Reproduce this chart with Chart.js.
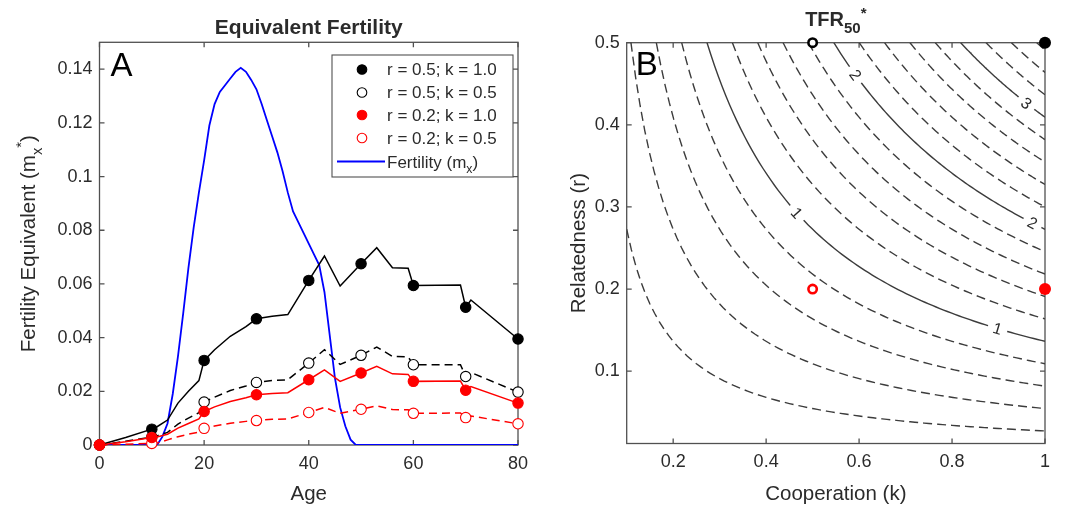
<!DOCTYPE html>
<html>
<head>
<meta charset="utf-8">
<script src="https://cdn.jsdelivr.net/npm/chart.js@4.4.1/dist/chart.umd.min.js"></script>
<style>
  html, body { margin: 0; padding: 0; background: #fff; }
  #wrap { position: relative; width: 1080px; height: 508px; overflow: hidden; }
  canvas { position: absolute; top: 0; }
  #chartA { left: 0; }
  #chartB { left: 540px; }
</style>
</head>
<body>
<div id="wrap">
  <canvas id="chartA" width="540" height="508"></canvas>
  <canvas id="chartB" width="540" height="508"></canvas>
</div>
<script>
'use strict'

// ---- panel A data ----
var eqAges = [0, 5, 10, 11, 13, 15, 17, 19, 20, 22, 25, 28, 30, 33, 36, 40, 43, 46, 50, 53, 56, 59, 60, 69, 70, 71, 80];
var markerAges = [0, 10, 20, 30, 40, 50, 60, 70, 80];
// r = 0.5; k = 1.0
var eqBlackFull = [0, 0.0028, 0.0059, 0.0068, 0.0093, 0.0156, 0.0200, 0.0240, 0.0315, 0.0355, 0.0405, 0.0441, 0.0470, 0.0480, 0.0486, 0.0613, 0.0704, 0.0592, 0.0675, 0.0735, 0.0660, 0.0658, 0.0594, 0.0596, 0.0513, 0.0540, 0.0395];
// r = 0.5; k = 0.5
var eqBlackOpen = [0, 0.0014, 0.0030, 0.0034, 0.0047, 0.0078, 0.0100, 0.0120, 0.0160, 0.0178, 0.0203, 0.0220, 0.0233, 0.0240, 0.0243, 0.0305, 0.0355, 0.0300, 0.0334, 0.0365, 0.0330, 0.0328, 0.0299, 0.0299, 0.0255, 0.0270, 0.0197];
// r = 0.2; k = 1.0
var eqRedFull = [0, 0.0012, 0.0028, 0.0030, 0.0040, 0.0063, 0.0080, 0.0097, 0.0125, 0.0142, 0.0162, 0.0176, 0.0187, 0.0192, 0.0195, 0.0243, 0.0280, 0.0237, 0.0268, 0.0293, 0.0265, 0.0263, 0.0237, 0.0238, 0.0204, 0.0218, 0.0156];
// r = 0.2; k = 0.5
var eqRedOpen = [0, 0.0003, 0.0006, 0.0007, 0.0019, 0.0031, 0.0040, 0.0048, 0.0062, 0.0071, 0.0081, 0.0088, 0.0091, 0.0096, 0.0097, 0.0121, 0.0140, 0.0118, 0.0133, 0.0146, 0.0132, 0.0131, 0.0118, 0.0119, 0.0102, 0.0108, 0.0079];

// fertility m_x
var fertAges = [0, 11, 12, 13, 14, 15, 16, 17, 18, 19, 20, 21, 22, 23, 24, 25, 26, 27, 28, 29, 30,
                31, 32, 33, 34, 35, 36, 37, 38, 39, 40, 41, 42, 43, 44, 45, 46, 47, 48, 49, 80];
var fertility = [0, 0, 0.003, 0.008, 0.019, 0.033, 0.049, 0.066, 0.081, 0.094, 0.106, 0.119, 0.127, 0.1315, 0.134, 0.1365, 0.139, 0.1405, 0.139, 0.136, 0.1325,
                 0.127, 0.121, 0.115, 0.109, 0.102, 0.094, 0.087, 0.083, 0.079, 0.075, 0.071, 0.067, 0.057, 0.041, 0.025, 0.014, 0.007, 0.002, 0, 0];

var ageTicks = [0, 20, 40, 60, 80];
var eqTicks = [0, 0.02, 0.04, 0.06, 0.08, 0.1, 0.12, 0.14];

// ---- panel B data ----
var caseR = [0.5, 0.5, 0.2, 0.2];
var caseK = [1.0, 0.5, 1.0, 0.5];
var contourLevels = [0.2, 0.4, 0.6, 0.8, 1.0, 1.2, 1.4, 1.6, 1.8, 2.0, 2.2, 2.4, 2.6, 2.8, 3.0, 3.2, 3.4, 3.6];
var solidLevels = [1, 2, 3];
var tfrPerKr = 7.33;   // TFR50* per unit of k*r, from the contour spacing
var kTicks = [0.2, 0.4, 0.6, 0.8, 1];
var rTicks = [0.1, 0.2, 0.3, 0.4, 0.5];
var labelSpots = [[1, 0.466], [1, 0.898], [2, 0.592], [2, 0.973], [3, 0.960]];   // [level, k]

// styles
var fam = "'Liberation Sans', Arial, Helvetica, sans-serif";
var txtColor = '#2b2b2b';
var axisColor = '#505050';
var tickFont = { family: fam, size: 18 };
var labelSize = 20.5;
var caseColor = ['#000000', '#000000', '#ff0000', '#ff0000'];
var caseFilled = [true, false, true, false];

Chart.defaults.font.family = fam;

// text with sub / superscripts. parts: [[text, mode]] mode 0 normal, -1 sub, 1 sup
function drawRich(ctx, parts, x, y, size, weight, rot, subDrop, subScale) {
    subDrop = subDrop || 0.32;
    subScale = subScale || 0.72;
    ctx.save();
    ctx.translate(x, y);
    if (rot) ctx.rotate(rot);
    ctx.fillStyle = txtColor;
    ctx.textAlign = 'left';
    ctx.textBaseline = 'alphabetic';
    var fontOf = function (p) {
        var s = p[1] === 0 ? size : size * subScale;
        return weight + ' ' + s + 'px ' + fam;
    };
    var total = 0, widths = [];
    parts.forEach(function (p) {
        ctx.font = fontOf(p);
        var w = ctx.measureText(p[0]).width;
        widths.push(w);
        total += w;
    });
    var cx = -total / 2;
    parts.forEach(function (p, i) {
        ctx.font = fontOf(p);
        var dy = p[1] === -1 ? size * subDrop : (p[1] === 1 ? -size * 0.42 : 0);
        ctx.fillText(p[0], cx, dy);
        cx += widths[i];
    });
    ctx.restore();
    return total;
}

// matlab-like box with inward ticks on all four sides
var boxPlugin = {
    id: 'matlabBox',
    beforeDatasetsDraw: function (chart) {
        var ctx = chart.ctx, a = chart.chartArea;
        var xs = chart.scales.x, ys = chart.scales.y;
        var tl = 5;
        ctx.save();
        ctx.strokeStyle = axisColor;
        ctx.lineWidth = 1.3;
        ctx.strokeRect(a.left, a.top, a.right - a.left, a.bottom - a.top);
        ctx.beginPath();
        xs.ticks.forEach(function (t) {
            var px = xs.getPixelForValue(t.value);
            ctx.moveTo(px, a.bottom); ctx.lineTo(px, a.bottom - tl);
            ctx.moveTo(px, a.top); ctx.lineTo(px, a.top + tl);
        });
        ys.ticks.forEach(function (t) {
            var py = ys.getPixelForValue(t.value);
            ctx.moveTo(a.left, py); ctx.lineTo(a.left + tl, py);
            ctx.moveTo(a.right, py); ctx.lineTo(a.right - tl, py);
        });
        ctx.stroke();
        ctx.restore();
    }
};

function makeScale(min, max, tickValues, fitSize, isX) {
    var s = {
        type: 'linear',
        min: min,
        max: max,
        afterBuildTicks: function (sc) {
            sc.ticks = tickValues.map(function (v) { return { value: v }; });
        },
        ticks: {
            font: tickFont,
            color: txtColor,
            padding: isX ? 8 : 7,
            maxRotation: 0,
            autoSkip: false,
            callback: function (v) { return String(v); }
        },
        grid: { display: false, drawTicks: false },
        border: { display: false }
    };
    s.afterFit = function (sc) {
        if (isX) sc.height = fitSize; else sc.width = fitSize;
    };
    return s;
}

function eqSeries(values, color, filled, dashed, order) {
    return {
        data: eqAges.map(function (a, i) { return { x: a, y: values[i] }; }),
        borderColor: color,
        borderWidth: 1.5,
        borderDash: dashed ? [8, 5] : [],
        pointRadius: function (c) {
            return (c.raw && markerAges.indexOf(c.raw.x) >= 0) ? 5.2 : 0;
        },
        pointBackgroundColor: filled ? color : '#ffffff',
        pointBorderColor: color,
        pointBorderWidth: 1.1,
        tension: 0,
        fill: false,
        clip: false,
        order: order
    };
}

// ---- panel A ----
var legendA = {
    id: 'legendA',
    afterDraw: function (chart) {
        var ctx = chart.ctx;
        var lfs = 17;
        ctx.save();
        ctx.fillStyle = '#fff';
        ctx.strokeStyle = axisColor;
        ctx.lineWidth = 1.1;
        ctx.fillRect(332, 55, 181, 122);
        ctx.strokeRect(332, 55, 181, 122);
        var rowY = [69.5, 92.5, 115, 138, 161.5];
        for (var i = 0; i < 4; i++) {
            ctx.beginPath();
            ctx.arc(362, rowY[i], 4.8, 0, Math.PI * 2);
            ctx.fillStyle = caseFilled[i] ? caseColor[i] : '#fff';
            ctx.fill();
            ctx.strokeStyle = caseColor[i];
            ctx.lineWidth = 1.1;
            ctx.stroke();
            ctx.fillStyle = txtColor;
            ctx.font = lfs + 'px ' + fam;
            ctx.textBaseline = 'middle';
            ctx.textAlign = 'left';
            ctx.fillText('r = ' + caseR[i].toFixed(1) + '; k = ' + caseK[i].toFixed(1), 387, rowY[i] + 1);
        }
        ctx.beginPath();
        ctx.strokeStyle = '#0000ff';
        ctx.lineWidth = 1.8;
        ctx.moveTo(337, rowY[4]);
        ctx.lineTo(385, rowY[4]);
        ctx.stroke();
        // measure first, then centre the rich text so it starts at x = 387
        ctx.font = lfs + 'px ' + fam;
        var wAll = ctx.measureText('Fertility (m').width + ctx.measureText(')').width;
        ctx.font = (lfs * 0.72) + 'px ' + fam;
        wAll += ctx.measureText('x').width;
        ctx.restore();
        drawRich(ctx, [['Fertility (m', 0], ['x', -1], [')', 0]], 387 + wAll / 2, rowY[4] + 6, lfs, 'normal', 0);
    }
};

var textA = {
    id: 'textA',
    afterDraw: function (chart) {
        var ctx = chart.ctx, a = chart.chartArea;
        var cx = (a.left + a.right) / 2;
        drawRich(ctx, [['Equivalent Fertility', 0]], cx, 34, 21, 'bold', 0);
        drawRich(ctx, [['Age', 0]], cx, 500, labelSize, 'normal', 0);
        drawRich(ctx, [['Fertility Equivalent (m', 0], ['x', -1], ['*', 1], [')', 0]],
            35, (a.top + a.bottom) / 2, labelSize, 'normal', -Math.PI / 2);
        ctx.save();
        ctx.fillStyle = '#000';
        ctx.font = '33px ' + fam;
        ctx.textAlign = 'left';
        ctx.textBaseline = 'alphabetic';
        ctx.fillText('A', a.left + 11, a.top + 34);
        ctx.restore();
    }
};

new Chart(document.getElementById('chartA'), {
    type: 'line',
    data: {
        datasets: [
            eqSeries(eqRedFull, '#ff0000', true, false, 0),
            eqSeries(eqRedOpen, '#ff0000', false, true, 1),
            eqSeries(eqBlackOpen, '#000000', false, true, 2),
            eqSeries(eqBlackFull, '#000000', true, false, 3),
            {
                data: fertAges.map(function (a, i) { return { x: a, y: fertility[i] }; }),
                borderColor: '#0000ff',
                borderWidth: 1.8,
                pointRadius: 0,
                tension: 0,
                fill: false,
                order: 4
            }
        ]
    },
    options: {
        responsive: false,
        animation: false,
        events: [],
        layout: { padding: { left: 0, right: 22, top: 42.3, bottom: 0 } },
        scales: {
            x: makeScale(0, 80, ageTicks, 63, true),
            y: makeScale(0, 0.15, eqTicks, 99.5, false)
        },
        plugins: { legend: { display: false }, tooltip: { enabled: false } }
    },
    plugins: [boxPlugin, legendA, textA]
});

// ---- panel B ----
var rMin = 0.012, rMax = 0.5, kMin = 0.1, kMax = 1.0;

// iso-lines of TFR50* = tfrPerKr * k * r for each contour level
function contourPoints(level) {
    var k0 = Math.max(kMin, level / (tfrPerKr * rMax));
    var k1 = Math.min(kMax, level / (tfrPerKr * rMin));
    var pts = [];
    var n = 90;
    for (var i = 0; i <= n; i++) {
        var k = k0 + (k1 - k0) * i / n;
        pts.push({ x: k, y: level / (tfrPerKr * k) });
    }
    return pts;
}

var bSets = [];
for (var c = 0; c < 4; c++) {
    bSets.push({
        data: [{ x: caseK[c], y: caseR[c] }],
        showLine: false,
        pointRadius: caseFilled[c] ? 6 : 4.2,
        pointBackgroundColor: caseFilled[c] ? caseColor[c] : '#ffffff',
        pointBorderColor: caseColor[c],
        pointBorderWidth: caseFilled[c] ? 0 : 2.6,
        clip: false,
        order: 0
    });
}
contourLevels.forEach(function (lv) {
    var solid = solidLevels.indexOf(lv) >= 0;
    bSets.push({
        data: contourPoints(lv),
        borderColor: '#3c3c3c',
        borderWidth: 1.4,
        borderDash: solid ? [] : [9, 5],
        pointRadius: 0,
        tension: 0,
        fill: false,
        order: 5
    });
});

var contourLabels = {
    id: 'contourLabels',
    afterDatasetsDraw: function (chart) {
        var ctx = chart.ctx;
        var xs = chart.scales.x, ys = chart.scales.y;
        labelSpots.forEach(function (sp) {
            var lv = sp[0], k = sp[1];
            var px = xs.getPixelForValue(k), py = ys.getPixelForValue(lv / (tfrPerKr * k));
            var ax = xs.getPixelForValue(k - 0.01), ay = ys.getPixelForValue(lv / (tfrPerKr * (k - 0.01)));
            var bx = xs.getPixelForValue(k + 0.01), by = ys.getPixelForValue(lv / (tfrPerKr * (k + 0.01)));
            var ang = Math.atan2(by - ay, bx - ax);
            ctx.save();
            ctx.translate(px, py);
            ctx.rotate(ang);
            ctx.fillStyle = '#fff';
            ctx.fillRect(-10, -5, 20, 10);
            ctx.fillStyle = txtColor;
            ctx.font = '16px ' + fam;
            ctx.textAlign = 'center';
            ctx.textBaseline = 'middle';
            ctx.fillText(String(lv), 0, 1);
            ctx.restore();
        });
    }
};

var textB = {
    id: 'textB',
    afterDraw: function (chart) {
        var ctx = chart.ctx, a = chart.chartArea;
        var cx = (a.left + a.right) / 2;
        drawRich(ctx, [['TFR', 0], ['50', -1], ['*', 1]], cx, 26, 20, 'bold', 0, 0.37, 0.75);
        drawRich(ctx, [['Cooperation (k)', 0]], cx, 500, labelSize, 'normal', 0);
        drawRich(ctx, [['Relatedness (r)', 0]], 45, (a.top + a.bottom) / 2, labelSize, 'normal', -Math.PI / 2);
        ctx.save();
        ctx.fillStyle = '#000';
        ctx.font = '33px ' + fam;
        ctx.textAlign = 'left';
        ctx.textBaseline = 'alphabetic';
        ctx.fillText('B', a.left + 9, a.top + 32);
        ctx.restore();
    }
};

new Chart(document.getElementById('chartB'), {
    type: 'line',
    data: { datasets: bSets },
    options: {
        responsive: false,
        animation: false,
        events: [],
        layout: { padding: { left: 0, right: 35, top: 42.7, bottom: 0 } },
        scales: {
            x: makeScale(kMin, kMax, kTicks, 64.5, true),
            y: makeScale(rMin, rMax, rTicks, 86.7, false)
        },
        plugins: { legend: { display: false }, tooltip: { enabled: false } }
    },
    plugins: [boxPlugin, contourLabels, textB]
});
</script>
</body>
</html>
